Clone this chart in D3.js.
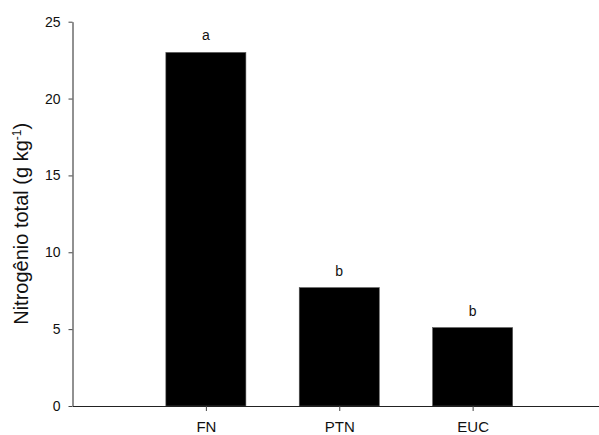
<!DOCTYPE html>
<html>
<head>
<meta charset="utf-8">
<script src="https://cdn.jsdelivr.net/npm/d3@7"></script>
<style>
  html, body { margin: 0; padding: 0; background: #fff; }
  svg { display: block; }
  text { font-family: "Liberation Sans", Arial, sans-serif; fill: #111; }
</style>
</head>
<body>
<svg id="chart" width="599" height="435"></svg>
<script>
// Total nitrogen by land use
const categories = ["FN", "PTN", "EUC"];
const values = [23.0, 7.7, 5.1];
const letters = ["a", "b", "b"];
const yTicks = [0, 5, 10, 15, 20, 25];

const svg = d3.select("#chart");

// categories sit at positions 1..3 on a 0..4 axis
const x = d3.scaleLinear().domain([0, 4]).range([72.5, 606]);
const y = d3.scaleLinear().domain([0, 25]).range([406, 21.7]);
const barW = x(0.6) - x(0);

// bars
svg.append("g").selectAll("rect")
  .data(values)
  .join("rect")
  .attr("x", (d, i) => x(i + 1) - barW / 2)
  .attr("y", d => y(d))
  .attr("width", barW)
  .attr("height", d => y(0) - y(d))
  .attr("fill", "#000")
  .attr("stroke", "#555")
  .attr("stroke-width", 0.6);

// significance letters
svg.append("g").selectAll("text")
  .data(values)
  .join("text")
  .attr("x", (d, i) => x(i + 1))
  .attr("y", d => y(d) - 12)
  .attr("text-anchor", "middle")
  .attr("font-size", 14)
  .text((d, i) => letters[i]);

// y axis
const yAxis = svg.append("g")
  .attr("transform", `translate(${x(0)},0)`)
  .call(d3.axisLeft(y).tickValues(yTicks).tickSize(4).tickPadding(8).tickSizeOuter(0));
yAxis.selectAll("text").attr("font-size", 14).style("fill", "#111");

// x axis
const xAxis = svg.append("g")
  .attr("transform", `translate(0,${y(0)})`)
  .call(d3.axisBottom(x).tickValues([1, 2, 3]).tickFormat((d) => categories[d - 1])
    .tickSize(5).tickPadding(10).tickSizeOuter(0));
xAxis.selectAll("text").attr("font-size", 15).style("fill", "#111");

[yAxis, xAxis].forEach(g => {
  g.select(".domain").attr("stroke", "#222");
  g.selectAll(".tick line").attr("stroke", "#444");
});

// y axis title
const title = svg.append("text")
  .attr("transform", `translate(28,${(y(0) + y(25)) / 2 + 10}) rotate(-90)`)
  .attr("text-anchor", "middle")
  .attr("font-size", 20);
title.append("tspan").text("Nitrogênio total (g kg");
title.append("tspan").attr("dy", -7).attr("font-size", 12).text("-1");
title.append("tspan").attr("dy", 7).text(")");
</script>
</body>
</html>
